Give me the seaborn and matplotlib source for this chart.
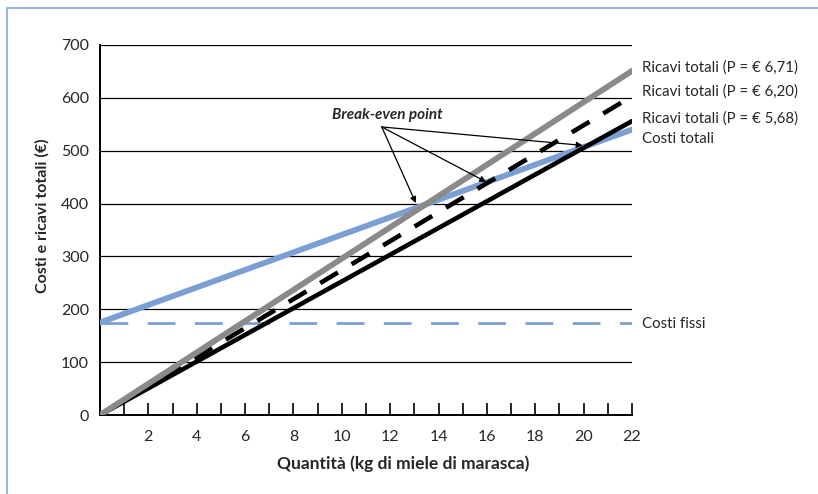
import matplotlib
matplotlib.use("Agg")
import matplotlib.pyplot as plt
import seaborn as sns
import pandas as pd
from matplotlib.lines import Line2D

# ---- data ----
quantita = [0, 22]
ricavi_671 = [0, 651]
ricavi_620 = [0, 603]
ricavi_568 = [0, 556]
costi_totali = [175, 540]
costi_fissi = [175, 175]

labels_right = ["Ricavi totali (P = € 6,71)", "Ricavi totali (P = € 6,20)",
                "Ricavi totali (P = € 5,68)", "Costi totali", "Costi fissi"]
label_y = [658, 612, 561, 522, 172]

bep_x = [13.06, 15.97, 19.96]
bep_y = [401, 441, 510]

x_ticks = list(range(1, 23))
x_ticklabels = [str(v) if v % 2 == 0 else "" for v in x_ticks]
y_ticks = list(range(0, 701, 100))

sns.set_theme(style="white")
plt.rcParams['font.family'] = ['Lato', 'DejaVu Sans']

fig = plt.figure(figsize=(8.18, 4.94), dpi=100)
ax = fig.add_axes([100/818, 1-415/494, 532/818, 370/494])

BLUE = "#7c9fd3"
GRAY = "#8a8a8a"

df = pd.DataFrame({"q": quantita, "r671": ricavi_671, "r620": ricavi_620,
                   "r568": ricavi_568, "ct": costi_totali, "cf": costi_fissi})

for yv in y_ticks[1:]:
    ax.axhline(yv, color="black", lw=0.9, zorder=1)

sns.lineplot(data=df, x="q", y="cf", ax=ax, color=BLUE, lw=2.0, zorder=2)
ax.lines[-1].set_dashes([10, 7])
sns.lineplot(data=df, x="q", y="ct", ax=ax, color=BLUE, lw=4.2, zorder=3)
sns.lineplot(data=df, x="q", y="r568", ax=ax, color="black", lw=3.3, zorder=4)
sns.lineplot(data=df, x="q", y="r620", ax=ax, color="black", lw=3.3, zorder=4)
ax.lines[-1].set_dashes([4.5, 3.5])
sns.lineplot(data=df, x="q", y="r671", ax=ax, color=GRAY, lw=4.2, zorder=5)

ax.set_xlim(0, 22)
ax.set_ylim(0, 700)
ax.set_xticks(x_ticks)
ax.set_xticklabels(x_ticklabels, fontsize=11.5)
ax.set_yticks(y_ticks)
ax.set_yticklabels([str(v) for v in y_ticks], fontsize=11.5)
ax.tick_params(axis="x", direction="in", length=9, width=1.2, color="black", pad=11, bottom=True)
ax.tick_params(axis="y", length=0, pad=8)

for s in ["top", "right"]:
    ax.spines[s].set_visible(False)
for s in ["left", "bottom"]:
    ax.spines[s].set_color("black")
    ax.spines[s].set_linewidth(1.4)

ax.set_xlabel("Quantità (kg di miele di marasca)", fontsize=12.5, fontweight="bold")
ax.set_ylabel("Costi e ricavi totali (€)", fontsize=11.5, fontweight="bold")
ax.xaxis.set_label_coords(0.57, -0.108)
ax.yaxis.set_label_coords(-0.094, 0.538)

for txt, yv in zip(labels_right, label_y):
    ax.text(22.4, yv, txt, fontsize=10.8, va="center", ha="left", clip_on=False)

ax.text(11.9, 567, "Break-even point", fontsize=11, fontweight="bold",
        fontstyle="italic", ha="center", va="center")
for bx, by in zip(bep_x, bep_y):
    ax.annotate("", xy=(bx, by), xytext=(11.65, 545),
                arrowprops=dict(arrowstyle="-|>", color="black", lw=0.9,
                                mutation_scale=9, shrinkA=0, shrinkB=0), zorder=6)

# figure frame (left and top)
fig.add_artist(Line2D([7/818, 7/818], [0, 1-8/494], transform=fig.transFigure,
                      color="#9db6e0", lw=1.5))
fig.add_artist(Line2D([7/818, 1], [1-8/494, 1-8/494], transform=fig.transFigure,
                      color="#9db6e0", lw=1.5))

fig.savefig("out.png", dpi=100)
